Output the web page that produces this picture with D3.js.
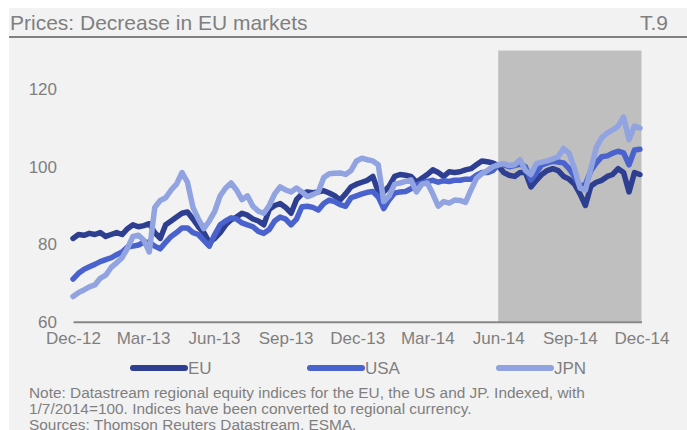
<!DOCTYPE html>
<html>
<meta charset="utf-8">
<style>
body {
  margin: 0;
  background: #ffffff;
  font-family: 'Liberation Sans', Arial, sans-serif;
}
.axis text {
  fill: #7f7f7f;
  font-size: 17px;
}
</style>
<body>
<script src="https://cdn.jsdelivr.net/npm/d3@7"></script>
<script>
var w = 687;
var h = 430;

// weekly observations, first week 31 Dec 2012
var startDate = "2012-12-31";

var eu = [81.5, 82.5, 82.3, 82.8, 82.5, 83, 82, 82.5, 83, 82.5,
  84, 85, 84.5, 84.8, 85.3, 83, 81.5, 85, 86, 87,
  88, 88.3, 86.5, 84.5, 83, 80.5, 81.5, 83, 85, 86.3,
  87, 88, 87.5, 86.5, 86, 85, 89, 90, 90.5, 89.5,
  88, 91.5, 93, 93.5, 93.3, 93.5, 93.8, 93.2, 92.5, 91.4,
  93, 94.8, 95.5, 96, 96.5, 97.5, 93.5, 93.5, 95, 97.5,
  98, 97.8, 97.5, 96, 97, 98, 99.2, 98.5, 97.5, 98.7,
  98.5, 98.7, 99.2, 99.5, 100.5, 101.5, 101.3, 101, 100.3, 98.5,
  97.8, 97.5, 98.5, 98.5, 94.8, 96.5, 98, 99, 99.5, 99,
  97.5, 96.8, 95.5, 93, 90, 95, 96, 96.5, 97.5, 98,
  99.5, 98.5, 93.5, 98.5, 98];

var usa = [71, 72.5, 73.5, 74.2, 74.8, 75.5, 76, 76.5, 77.3, 78,
  79.3, 79.5, 79.8, 80.5, 80.5, 79.5, 78.8, 80.5, 82, 83,
  84.2, 84.2, 83, 82.5, 81, 79.5, 82.5, 85, 86, 86.8,
  86.5, 85.5, 85, 84.5, 83.3, 82.8, 83.8, 86, 87, 86.5,
  85, 86.5, 89.7, 89.8, 89.5, 88.8, 90.5, 91.4, 91, 90.2,
  89.8, 92, 92.5, 93, 93.4, 93.6, 92.2, 89.2, 91.5, 93.2,
  93.5, 93.6, 94.3, 95.3, 95.8, 96.2, 96.5, 96, 96.4, 96.2,
  96.5, 96.5, 96.8, 96.8, 97.8, 98.5, 98.5, 99, 100.5, 100.5,
  100, 100.3, 100.7, 100, 96.6, 98.5, 100.5, 101, 101.4, 101.2,
  101, 99.5, 97.5, 94.9, 95.5, 99, 101, 102.6, 102.8, 103.5,
  104, 103.6, 100.5, 104.3, 104.5];

var jpn = [66.5, 67.5, 68.2, 69, 69.5, 71.2, 72, 74, 75.2, 76.5,
  79, 82, 82.3, 81, 78, 89.5, 91.3, 92, 94, 95.5,
  98.5, 96, 89.5, 86.5, 84, 86, 88.5, 92.5, 94.5, 95.8,
  94, 91.5, 92.5, 89.8, 88.5, 88, 90, 93, 94.8, 94,
  93.5, 94.5, 93.5, 92.3, 92.8, 93.5, 97.2, 98.2, 98.3, 98.4,
  98, 99, 101.5, 102.2, 101.8, 101.5, 100.5, 91, 92.5, 95.5,
  95.8, 96.2, 96.6, 93.5, 95.5, 95.8, 93, 89.8, 91, 90.6,
  91.4, 91.3, 90.8, 94, 97, 98.2, 99, 100, 100.5, 100.8,
  100.3, 100.5, 101.8, 99, 98, 100.8, 101.2, 101.5, 102, 102.6,
  104.7, 103.5, 99.5, 94.5, 94, 99.5, 105, 107.5, 108.7, 109.5,
  110.5, 112.8, 107, 110.5, 110];

var seriesNames = ["EU", "USA", "JPN"];
var seriesColors = ["#2e3f91", "#4a62cd", "#91a3e0"];
var yTicks = [60, 80, 100, 120];
var xTicks = ["2012-12-31", "2013-03-31", "2013-06-30", "2013-09-30", "2013-12-31",
  "2014-03-31", "2014-06-30", "2014-09-30", "2014-12-31"];
var shade = ["2014-06-30", "2014-12-31"];

var notes = [
  "Note: Datastream regional equity indices for the EU, the US and JP. Indexed, with",
  "1/7/2014=100. Indices have been converted to regional currency.",
  "Sources: Thomson Reuters Datastream, ESMA."
];

var parse = d3.timeParse("%Y-%m-%d");
var fmt = d3.timeFormat("%b-%y");

var dates = eu.map(function(d, i) { return d3.timeDay.offset(parse(startDate), i * 7); });
var series = [eu, usa, jpn].map(function(vals, k) {
  return {
    name: seriesNames[k],
    color: seriesColors[k],
    values: vals.map(function(v, i) { return {date: dates[i], value: v}; })
  };
});

var xScale = d3.scaleTime()
    .domain([parse(xTicks[0]), parse(xTicks[xTicks.length - 1])])
    .range([73, 641.5]);
var yScale = d3.scaleLinear()
    .domain([60, 130])
    .range([321.7, 50.5]);

var svg = d3.select("body")
    .append("svg")
    .attr("width", w)
    .attr("height", h);

// panel background
svg.append("rect")
    .attr("x", 9)
    .attr("y", 8)
    .attr("width", w - 9)
    .attr("height", h - 8)
    .style("fill", "#f2f2f2");

// title
svg.append("text")
    .attr("x", 10)
    .attr("y", 30)
    .style("font-size", "21px")
    .style("fill", "#7f7f7f")
    .text("Prices: Decrease in EU markets");
svg.append("text")
    .attr("x", 668)
    .attr("y", 30)
    .style("font-size", "21px")
    .style("fill", "#7f7f7f")
    .style("text-anchor", "end")
    .text("T.9");
svg.append("line")
    .attr("x1", 9)
    .attr("x2", w)
    .attr("y1", 37)
    .attr("y2", 37)
    .style("stroke", "#808080")
    .style("stroke-width", 2);

// shaded period
svg.append("rect")
    .attr("x", xScale(parse(shade[0])))
    .attr("y", yScale(130))
    .attr("width", xScale(parse(shade[1])) - xScale(parse(shade[0])))
    .attr("height", yScale(60) - yScale(130))
    .style("fill", "#bfbfbf");

// y axis
var yAxis = d3.axisLeft(yScale)
    .tickValues(yTicks)
    .tickSize(0)
    .tickPadding(0);
svg.append("g")
    .attr("class", "axis")
    .attr("transform", "translate(57,0)")
    .call(yAxis)
    .call(function(g) { g.select(".domain").remove(); });

// x axis
var xAxis = d3.axisBottom(xScale)
    .tickValues(xTicks.map(parse))
    .tickFormat(fmt)
    .tickSize(0)
    .tickPadding(10);
var xg = svg.append("g")
    .attr("class", "axis")
    .attr("transform", "translate(0," + yScale(60) + ")")
    .call(xAxis);
xg.select(".domain")
    .style("stroke", "#868686")
    .style("stroke-width", 2);
xg.selectAll("text").attr("dy", "0.71em");

// lines
var line = d3.line()
    .x(function(d) { return xScale(d.date); })
    .y(function(d) { return yScale(d.value); });

svg.selectAll(".series")
    .data(series)
    .enter()
    .append("path")
    .attr("class", "series")
    .attr("d", function(d) { return line(d.values); })
    .style("fill", "none")
    .style("stroke", function(d) { return d.color; })
    .style("stroke-width", 5.5)
    .style("stroke-linejoin", "round")
    .style("stroke-linecap", "round");

// legend
var legendX = [131, 308, 497];
var legend = svg.selectAll(".legend")
    .data(series)
    .enter()
    .append("g")
    .attr("class", "legend")
    .attr("transform", function(d, i) { return "translate(" + legendX[i] + ",368)"; });

legend.append("line")
    .attr("x1", 2)
    .attr("x2", 54)
    .style("stroke", function(d) { return d.color; })
    .style("stroke-width", 6)
    .style("stroke-linecap", "round");

legend.append("text")
    .attr("x", 57)
    .attr("y", 6)
    .style("font-size", "17px")
    .style("fill", "#7f7f7f")
    .text(function(d) { return d.name; });

// notes
svg.selectAll(".note")
    .data(notes)
    .enter()
    .append("text")
    .attr("class", "note")
    .attr("x", 29)
    .attr("y", function(d, i) { return 398 + i * 16; })
    .style("font-size", "15.4px")
    .style("fill", "#7f7f7f")
    .text(function(d) { return d; });
</script>
</body>
</html>
